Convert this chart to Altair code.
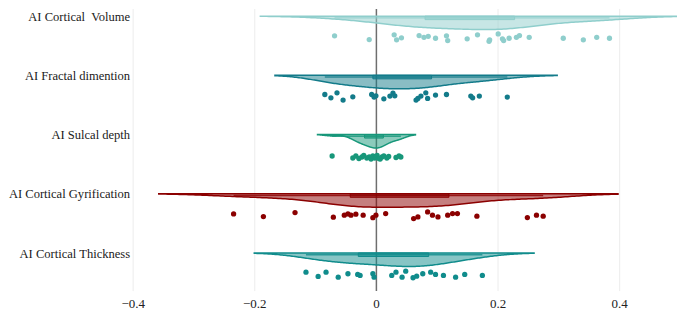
import json
import altair as alt
import numpy as np
import pandas as pd

# ---------------- data ----------------
categories = ["AI Cortical\u2002Volume", "AI Fractal dimention", "AI Sulcal depth",
              "AI Cortical Gyrification", "AI Cortical Thickness"]
colors = ["#8fcecc", "#137b8a", "#17977a", "#8b0000", "#108c8c"]

volume = [-0.068, -0.011, 0.030, 0.034, 0.042, 0.071, 0.079, 0.086, 0.098, 0.116, 0.118,
          0.150, 0.167, 0.186, 0.187, 0.201, 0.208, 0.210, 0.219, 0.231, 0.236, 0.252,
          0.308, 0.341, 0.363, 0.384]
volume_jitter = [-1.7, 2, -2.7, 2.3, 0.3, -2, -0.3, -1.3, 0.7, -1.7, 3, 1.3, -2.7, 3.7, 2.3,
                 -3.7, 1.3, 3, 0.7, -0.3, -2, -0.3, 0.7, 2.3, -0.3, 0.7]

fractal = [-0.084, -0.074, -0.064, -0.054, -0.038, -0.007, -0.003, 0.000, 0.013, 0.023, 0.028,
           0.031, 0.066, 0.069, 0.074, 0.082, 0.085, 0.098, 0.116, 0.156, 0.159, 0.170, 0.216]
fractal_jitter = [-2.3, 1, -4, 3.3, 0, -2.3, 0.3, -1, 2, -0.7, -3.7, -1, 3.3, 1.7, -0.7, -4,
                  1.7, -1.7, -2.3, -0.7, 1, -0.7, 0.3]

sulcal = [-0.072, -0.038, -0.033, -0.028, -0.023, -0.020, -0.015, -0.011, -0.008, -0.005,
          -0.002, 0.000, 0.002, 0.005, 0.007, 0.010, 0.013, 0.018, 0.021, 0.033, 0.038, 0.041]
sulcal_jitter = [0, 2, 0, 2.5, 1, -0.5, 2, 1, 3, 0, 2, 1, -0.5, 2.5, 3, 1, 0, 2, 0.5, 1.5, 0, 1]

gyrification = [-0.234, -0.185, -0.133, -0.070, -0.052, -0.046, -0.041, -0.033, -0.021, -0.005,
                0.000, 0.016, 0.062, 0.069, 0.085, 0.093, 0.102, 0.118, 0.126, 0.134, 0.166,
                0.249, 0.264, 0.275]
gyrification_jitter = [-1.3, 1.3, -2.7, 2, 0, -1.3, 0, -1, 0, 2.5, 0, -1.7, 3.3, 1.7, -3.3, 0,
                       1.7, 0, -1.7, -1.7, 1, 2.3, 0, 1]

thickness = [-0.115, -0.095, -0.082, -0.062, -0.046, -0.030, -0.026, -0.005, -0.003, 0.026,
             0.033, 0.043, 0.049, 0.061, 0.067, 0.077, 0.090, 0.098, 0.111, 0.131, 0.146, 0.175]
thickness_jitter = [-2.3, 2, -2.3, 2.7, -0.7, 0, 1, -0.7, 2.7, 1, -2.3, 2.7, -3.3, 3.3, 1.7,
                    -0.7, -2.3, 0, 1, 2.7, 0, 1]

bandwidths = [0.061, 0.041, 0.012, 0.0615, 0.0425]

x_ticks = [-0.4, -0.2, 0, 0.2, 0.4]

series = [volume, fractal, sulcal, gyrification, thickness]
jitters = [volume_jitter, fractal_jitter, sulcal_jitter, gyrification_jitter, thickness_jitter]

# ---------------- layout constants ----------------
ROW_PX = 59.4
PLOT_W = 546
PLOT_H = 283
Y_MIN = -7.7 / ROW_PX
Y_MAX = Y_MIN + PLOT_H / ROW_PX
DEPTH = 13.5 / ROW_PX
POINT_OFF = 21.5 / ROW_PX
BOX_H = 3.5 / ROW_PX
FONT = "Liberation Serif"

rows = []
for k, (name, vals, jit) in enumerate(zip(categories, series, jitters)):
    for v, j in zip(vals, jit):
        rows.append({"k": k, "cat": name, "value": v, "jit": j})
df = pd.DataFrame(rows)

xscale = alt.Scale(domain=[-0.4, 0.495], nice=False, zero=False)
yscale = alt.Scale(domain=[Y_MIN, Y_MAX], nice=False, zero=False, reverse=True)

label_expr = json.dumps(categories, ensure_ascii=False) + "[datum.value]"
xaxis = alt.Axis(values=x_ticks, format="~g", title=None, ticks=False, domain=False,
                 grid=True, labelFlush=False,
                 gridColor={"condition": {"test": "datum.value === 0", "value": "#6e6e6e"},
                            "value": "#ececec"},
                 gridWidth={"condition": {"test": "datum.value === 0", "value": 1.5},
                            "value": 1},
                 labelFont=FONT, labelFontSize=13, labelColor="#222222", labelPadding=7)
yaxis = alt.Axis(values=[0, 1, 2, 3, 4], labelExpr=label_expr, title=None, grid=False,
                 ticks=False, domain=False, labelFont=FONT, labelFontSize=12.6,
                 labelColor="#1a1a1a", labelPadding=3, minExtent=123, maxExtent=123)


def X(field):
    return alt.X(field, scale=xscale, axis=xaxis)


def Y(field):
    return alt.Y(field, scale=yscale, axis=yaxis)


cat_scale = alt.Scale(domain=categories, range=colors)
color = alt.Color("cat:N", scale=cat_scale, legend=None)

base = alt.Chart(df)
layers = []

for k, (vals, c, bw) in enumerate(zip(series, colors, bandwidths)):
    v = np.array(vals)
    ext = [float(v.min() - 2 * bw), float(v.max() + 2 * bw)]
    violin = (
        base.transform_filter(alt.datum.k == k)
        .transform_density("value", groupby=["k"], bandwidth=bw, extent=ext,
                           steps=200, as_=["value", "density"])
        .transform_joinaggregate(maxd="max(density)")
        .transform_calculate(yv=f"datum.k + {DEPTH} * datum.density / datum.maxd")
        .mark_area(fill=c, fillOpacity=0.5, stroke=c, strokeWidth=1.5, clip=True)
        .encode(x=X("value:Q"), y=Y("k:Q"), y2="yv:Q")
    )
    layers.append(violin)

stats = base.transform_aggregate(mn="min(value)", q1="q1(value)", q3="q3(value)",
                                 mx="max(value)", groupby=["k", "cat"])

whisk = (
    stats.transform_calculate(yb=f"datum.k + {BOX_H / 2}")
    .mark_rule(strokeWidth=1.5, opacity=0.8)
    .encode(x=X("mn:Q"), x2="mx:Q", y=Y("yb:Q"), color=color)
)
iqr = (
    stats.transform_calculate(yb2=f"datum.k + {BOX_H}")
    .mark_rect(fillOpacity=0.6, strokeWidth=1)
    .encode(x=X("q1:Q"), x2="q3:Q", y=Y("k:Q"), y2="yb2:Q",
            fill=alt.Fill("cat:N", scale=cat_scale, legend=None),
            stroke=alt.Stroke("cat:N", scale=cat_scale, legend=None))
)
points = (
    base.transform_calculate(yp=f"datum.k + {POINT_OFF} + datum.jit / {ROW_PX}")
    .mark_circle(size=28, opacity=1)
    .encode(x=X("value:Q"), y=Y("yp:Q"), color=color)
)

chart = (
    alt.layer(*layers, whisk, iqr, points)
    .properties(width=PLOT_W, height=PLOT_H, padding=0, background="white")
    .configure_view(strokeWidth=0)
)

chart.save("out.html", embed_options={"renderer": "svg", "actions": False})
